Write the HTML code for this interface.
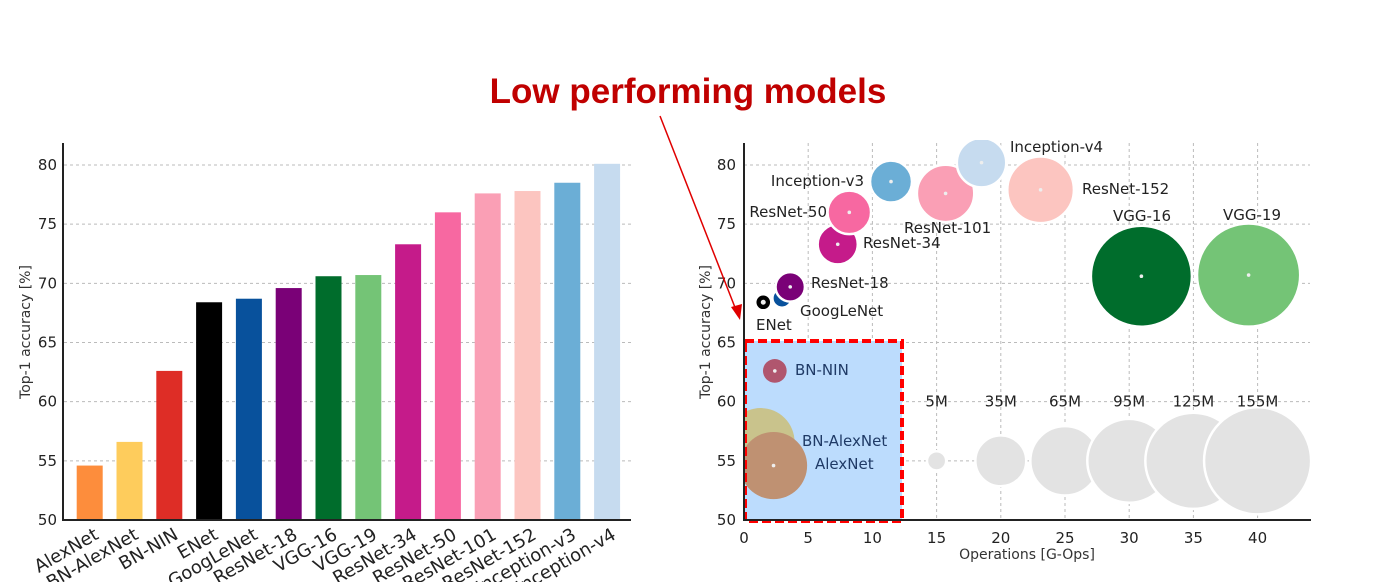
<!DOCTYPE html>
<html><head><meta charset="utf-8"><style>
body{margin:0;background:#fff;width:1376px;height:582px;overflow:hidden;font-family:"DejaVu Sans","Liberation Sans",sans-serif}
svg text{font-family:"DejaVu Sans","Liberation Sans",sans-serif}
</style></head><body>
<svg id="s" width="1376" height="582" viewBox="0 0 1376 582" xmlns="http://www.w3.org/2000/svg">
<text x="688" y="103" text-anchor="middle" font-weight="bold" font-size="35" fill="#c00000" style="font-family:'Liberation Sans',sans-serif">Low performing models</text>
<g id="left"></g><g id="right"></g>
<line x1="660" y1="116" x2="736" y2="310" stroke="#e00000" stroke-width="1.5"/>
<polygon points="740,320 731,307 742,304" fill="#e00000"/>
</svg>
<script>
const barNames=["AlexNet","BN-AlexNet","BN-NIN","ENet","GoogLeNet","ResNet-18","VGG-16","VGG-19","ResNet-34","ResNet-50","ResNet-101","ResNet-152","Inception-v3","Inception-v4"];
const barValues=[54.6,56.6,62.6,68.4,68.7,69.6,70.6,70.7,73.3,76.0,77.6,77.8,78.5,80.1];
const barColors=["#fd8d3c","#fecc5c","#de2d26","#000000","#08519c","#7a0177","#006d2c","#74c476","#c51b8a","#f768a1","#fa9fb5","#fcc5c0","#6baed6","#c6dbef"];
const yTicks=[50,55,60,65,70,75,80];
const xTicks=[0,5,10,15,20,25,30,35,40];
const bubNames=["ENet","GoogLeNet","ResNet-18","ResNet-34","ResNet-50","Inception-v3","ResNet-101","Inception-v4","ResNet-152","VGG-16","VGG-19","BN-NIN","BN-AlexNet","AlexNet"];
const bubOps=[1.5,2.96,3.6,7.3,8.2,11.45,15.7,18.5,23.1,30.95,39.3,2.4,1.3,2.3];
const bubAcc=[68.4,68.75,69.7,73.3,76.0,78.6,77.6,80.2,77.9,70.6,70.7,62.6,56.6,54.6];
const bubParams=[3.5,5,11.7,21.8,25.6,23.8,44.5,33,60,138,144,7.6,62,61];
const bubColors=["#000000","#08519c","#7a0177","#c51b8a","#f768a1","#6baed6","#fa9fb5","#c6dbef","#fcc5c0","#006d2c","#74c476","#b0566e","#c9c38c","#bf9172"];
const legendParams=[5,35,65,95,125,155];
const legendLabels=["5M","35M","65M","95M","125M","155M"];
const legendOps=[15,20,25,30,35,40];
const NS="http://www.w3.org/2000/svg";
function mk(p,t,a){const e=document.createElementNS(NS,t);for(const k in a)e.setAttribute(k,a[k]);p.appendChild(e);return e;}
const yS=v=>520-(v-50)*(355/30);
// LEFT
const L=document.getElementById('left');
const bx=i=>89.7+39.8*i;
yTicks.forEach(t=>{
 const g=mk(L,'line',{x1:64,x2:631,y1:yS(t),y2:yS(t),stroke:'#bbb','stroke-dasharray':'3,3'});
 
 
 const tx=mk(L,'text',{x:57,y:yS(t)+5,'text-anchor':'end','font-size':15,fill:'#222'});tx.textContent=t;
 
 
});
barNames.forEach((n,i)=>{
 const r=mk(L,'rect',{x:bx(i)-13,y:yS(barValues[i]),width:26,height:520-yS(barValues[i]),fill:barColors[i]});
 
 
 const t=mk(L,'text',{transform:`translate(${bx(i)+10},${538}) rotate(-30)`,'text-anchor':'end','font-size':18,fill:'#222'});t.textContent=n;
 
 
});
let a=mk(L,'line',{x1:63,x2:63,y1:143,y2:521,stroke:'#222','stroke-width':2});


a=mk(L,'line',{x1:62,x2:631,y1:520,y2:520,stroke:'#222','stroke-width':2});


let yt=mk(L,'text',{transform:'translate(30,332) rotate(-90)','text-anchor':'middle','font-size':14,fill:'#333'});yt.textContent='Top-1 accuracy [%]';


// RIGHT
const R=document.getElementById('right');
const xS=v=>744+v*12.84;
const rS=p=>Math.max(8,4.3*Math.sqrt(p));
const defs=mk(R,'defs',{});const cp=mk(defs,'clipPath',{id:'pc'});mk(cp,'rect',{x:744,y:140,width:570,height:380});
yTicks.forEach(t=>{
 const g=mk(R,'line',{x1:744,x2:1310,y1:yS(t),y2:yS(t),stroke:'#bbb','stroke-dasharray':'3,3'});
 
 
 const tx=mk(R,'text',{x:736,y:yS(t)+5,'text-anchor':'end','font-size':15,fill:'#222'});tx.textContent=t;
 
 
});
xTicks.forEach(t=>{
 const g=mk(R,'line',{x1:xS(t),x2:xS(t),y1:143,y2:520,stroke:'#bbb','stroke-dasharray':'3,3'});
 
 
 const tx=mk(R,'text',{x:xS(t),y:543,'text-anchor':'middle','font-size':15,fill:'#222'});tx.textContent=t;
 
 
});
legendParams.forEach((p,i)=>{
 const c=mk(R,'circle',{cx:xS(legendOps[i]),cy:yS(55),r:4.3*Math.sqrt(p),fill:'#e3e3e3',stroke:'#fff','stroke-width':2.5});
 
 
 const t=mk(R,'text',{x:xS(legendOps[i]),y:yS(60)+5,'text-anchor':'middle','font-size':15,fill:'#222'});t.textContent=legendLabels[i];
 
 
});
const box=mk(R,'rect',{x:745,y:341,width:157,height:180,fill:'#bcdcfd'});


const gB=mk(R,'g',{'clip-path':'url(#pc)'});
const labelPos={"ENet":[756,330,'start'],"GoogLeNet":[800,316,'start'],"ResNet-18":[811,288,'start'],"ResNet-34":[863,248,'start'],"ResNet-50":[827,217,'end'],"Inception-v3":[864,186,'end'],"ResNet-101":[904,233,'start'],"Inception-v4":[1010,152,'start'],"ResNet-152":[1082,194,'start'],"VGG-16":[1142,221,'middle'],"VGG-19":[1252,220,'middle'],"BN-NIN":[795,375,'start'],"BN-AlexNet":[802,446,'start'],"AlexNet":[815,469,'start']};
bubNames.forEach((n,i)=>{
 const low=i>=11;
 const c=mk(gB,'circle',{cx:xS(bubOps[i]),cy:yS(bubAcc[i]),r:rS(bubParams[i]),fill:bubColors[i],stroke:low?'none':'#fff','stroke-width':2.5});
 
 
 mk(gB,'circle',{cx:xS(bubOps[i]),cy:yS(bubAcc[i]),r:n==='ENet'?2.5:1.8,fill:'#eee'});
 const lp=labelPos[n];
 const t=mk(R,'text',{x:lp[0],y:lp[1],'text-anchor':lp[2],'font-size':15,fill:low?'#1f3a66':'#222'});t.textContent=n;
 
 
});
const border=mk(R,'rect',{x:745,y:341,width:157,height:180,fill:'none',stroke:'#ff0000','stroke-width':4,'stroke-dasharray':'9,4'});


a=mk(R,'line',{x1:744,x2:744,y1:143,y2:521,stroke:'#222','stroke-width':2});


a=mk(R,'line',{x1:743,x2:1311,y1:520,y2:520,stroke:'#222','stroke-width':2});


yt=mk(R,'text',{transform:'translate(710,332) rotate(-90)','text-anchor':'middle','font-size':14,fill:'#333'});yt.textContent='Top-1 accuracy [%]';


yt=mk(R,'text',{x:1027,y:559,'text-anchor':'middle','font-size':14,fill:'#333'});yt.textContent='Operations [G-Ops]';


</script>
</body></html>
